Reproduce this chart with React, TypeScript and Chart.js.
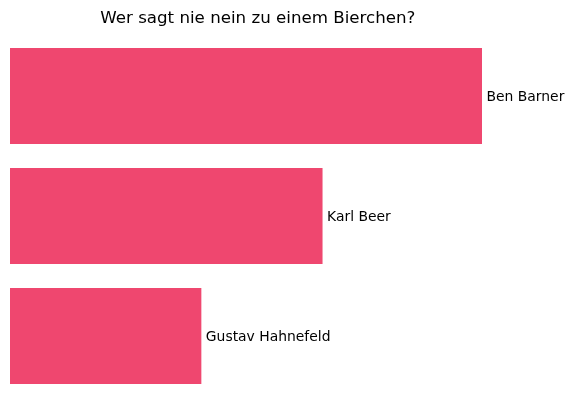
import React, { useEffect, useRef } from "react";
import { Chart, registerables } from "chart.js";

Chart.register(...registerables);

const names = ["Ben Barner", "Karl Beer", "Gustav Hahnefeld"];
const values = [74, 49, 30];
const title = "Wer sagt nie nein zu einem Bierchen?";
const barColor = "#EF476F";

const labelPlugin = {
  id: "endLabels",
  afterDatasetsDraw(chart: any) {
    const ctx = chart.ctx;
    const meta = chart.getDatasetMeta(0);
    const area = chart.chartArea;
    ctx.save();
    ctx.fillStyle = "#000";
    ctx.font = '13.9px "DejaVu Sans"';
    ctx.textBaseline = "middle";
    ctx.textAlign = "left";
    meta.data.forEach((bar: any, i: number) => {
      ctx.fillText(names[i], bar.x + 4.5, bar.y + 1);
    });
    ctx.font = '16.67px "DejaVu Sans"';
    ctx.textAlign = "center";
    ctx.fillText(title, (area.left + area.right) / 2, 18.5);
    ctx.restore();
  },
};

export default function App() {
  const ref = useRef<HTMLCanvasElement>(null);
  useEffect(() => {
    if (!ref.current) return;
    const chart = new Chart(ref.current, {
      type: "bar",
      data: {
        labels: names,
        datasets: [
          {
            data: values,
            backgroundColor: barColor,
            borderWidth: 0,
            barPercentage: 0.8,
            categoryPercentage: 1,
          },
        ],
      },
      options: {
        indexAxis: "y",
        animation: false,
        responsive: true,
        maintainAspectRatio: false,
        layout: { padding: { left: 10, right: 68.4, top: 36, bottom: 15 } },
        scales: {
          x: { display: false, min: 0, max: 77.7 },
          y: { display: false },
        },
        plugins: {
          legend: { display: false },
          tooltip: { enabled: false },
          title: { display: false },
        },
      },
      plugins: [labelPlugin],
    });
    return () => chart.destroy();
  }, []);
  return (
    <div style={{ position: "fixed", left: 0, top: 0, width: 574, height: 411, background: "#fff" }}>
      <canvas ref={ref} />
    </div>
  );
}
